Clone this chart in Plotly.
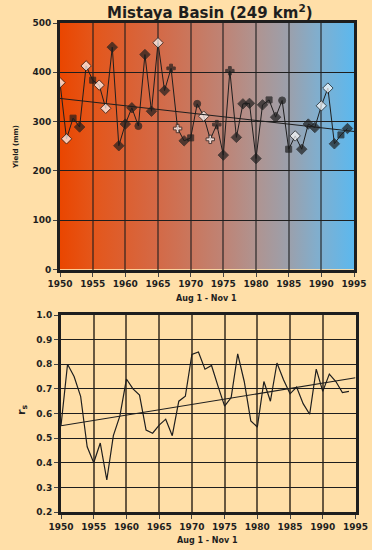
import base64
import plotly.graph_objects as go

# ---------------- data ----------------
years = list(range(1950, 1995))
yield_mm = [379, 265, 307, 289, 413, 384, 374, 327, 451, 251,
            295, 328, 291, 436, 321, 460, 363, 408, 286, 261,
            267, 336, 311, 264, 294, 232, 403, 268, 336, 337,
            225, 334, 344, 309, 343, 244, 271, 244, 295, 288,
            332, 368, 255, 273, 286]
rs = [0.55, 0.80, 0.75, 0.67, 0.465, 0.40, 0.48, 0.33, 0.51, 0.59,
      0.74, 0.70, 0.675, 0.533, 0.52, 0.553, 0.577, 0.51, 0.65, 0.67,
      0.84, 0.85, 0.78, 0.795, 0.71, 0.63, 0.665, 0.842, 0.73, 0.57,
      0.545, 0.73, 0.65, 0.805, 0.737, 0.68, 0.707, 0.64, 0.597, 0.78,
      0.69, 0.76, 0.73, 0.685, 0.69]
trend_years = [1950, 1995]
yield_trend = [347, 280]
rs_trend = [0.55, 0.745]
x_ticks = [1950, 1955, 1960, 1965, 1970, 1975, 1980, 1985, 1990, 1995]
yield_ticks = [0, 100, 200, 300, 400, 500]
rs_ticks = [0.2, 0.3, 0.4, 0.5, 0.6, 0.7, 0.8, 0.9, 1.0]

# ---------------- styles ----------------
BG = "#FFDFA8"
INK = "#1E1E1E"
white_years = {1950, 1951, 1954, 1956, 1957, 1965, 1968, 1972, 1973, 1986, 1990, 1991}
square_years = {1952, 1955, 1970, 1982, 1985, 1993}
cross_years = {1968, 1973, 1974, 1976, 1967}
circle_years = {1971, 1984, 1962}
symbols, fills, sizes = [], [], []
for yr in years:
    if yr in square_years:
        s, z = "square", 6
    elif yr in cross_years:
        s, z = "cross", 7
    elif yr in circle_years:
        s, z = "circle", 7
    else:
        s, z = "diamond", 8
    symbols.append(s)
    sizes.append(z)
    fills.append("white" if yr in white_years else INK)

stops = [(0.0, "rgb(234,70,0)"), (0.11, "rgb(228,86,26)"), (0.33, "rgb(212,105,70)"),
         (0.44, "rgb(202,118,92)"), (0.56, "rgb(190,132,118)"), (0.67, "rgb(175,148,145)"),
         (0.78, "rgb(155,160,172)"), (0.89, "rgb(125,176,210)"), (1.0, "rgb(92,184,238)")]
stop_xml = "".join(f'<stop offset="{o}" stop-color="{c}"/>' for o, c in stops)
svg = ('<svg xmlns="http://www.w3.org/2000/svg" width="400" height="100" viewBox="0 0 400 100" '
       'preserveAspectRatio="none"><defs><linearGradient id="g" x1="0" y1="0" x2="1" y2="0">'
       + stop_xml + '</linearGradient></defs><rect x="0" y="0" width="400" height="100" fill="url(#g)"/></svg>')
svg_uri = "data:image/svg+xml;base64," + base64.b64encode(svg.encode()).decode()

fig = go.Figure()

# top chart
fig.add_trace(go.Scatter(x=years, y=yield_mm, mode="lines+markers",
                         line=dict(color=INK, width=1),
                         marker=dict(symbol=symbols, size=sizes, color=fills,
                                     line=dict(color=INK, width=1)),
                         xaxis="x", yaxis="y", showlegend=False, hoverinfo="skip"))
fig.add_trace(go.Scatter(x=trend_years, y=yield_trend, mode="lines",
                         line=dict(color=INK, width=1), xaxis="x", yaxis="y",
                         showlegend=False, hoverinfo="skip"))
# bottom chart
fig.add_trace(go.Scatter(x=years, y=rs, mode="lines",
                         line=dict(color=INK, width=1.2),
                         xaxis="x2", yaxis="y2", showlegend=False, hoverinfo="skip"))
fig.add_trace(go.Scatter(x=trend_years, y=rs_trend, mode="lines",
                         line=dict(color=INK, width=1.1), xaxis="x2", yaxis="y2",
                         showlegend=False, hoverinfo="skip"))

tickfont = dict(family="DejaVu Sans", size=9, color=INK, weight="bold")
axis_common = dict(showline=True, mirror=True, linecolor=INK, linewidth=3,
                   ticks="outside", ticklen=4, tickcolor="#444", tickwidth=1,
                   tickfont=tickfont, zeroline=False, showgrid=True, automargin=False)

W, H = 372, 550
fig.update_layout(
    width=W, height=H,
    margin=dict(l=0, r=0, t=0, b=0, pad=0, autoexpand=False),
    paper_bgcolor=BG, plot_bgcolor="rgba(0,0,0,0)",
    xaxis=dict(domain=[60 / W, 354 / W], range=[1950, 1995], tickvals=x_ticks,
               anchor="y", gridcolor="rgba(30,30,30,0.55)", gridwidth=1.5, **axis_common),
    yaxis=dict(domain=[1 - 269.5 / H, 1 - 23 / H], range=[0, 500], tickvals=yield_ticks,
               anchor="x", gridcolor=INK, gridwidth=1.2, **axis_common),
    xaxis2=dict(domain=[61 / W, 355.5 / W], range=[1950, 1995], tickvals=x_ticks,
                anchor="y2", gridcolor="rgba(40,30,20,0.7)", gridwidth=1.5, **axis_common),
    yaxis2=dict(domain=[1 - 512 / H, 1 - 315 / H], range=[0.2, 1.0], tickvals=rs_ticks,
                tickformat=".1f", anchor="x2", gridcolor=INK, gridwidth=1.2, **axis_common),
    images=[dict(source=svg_uri, xref="x", yref="y", x=1950, y=500, sizex=45, sizey=500,
                 sizing="stretch", xanchor="left", yanchor="top", layer="below")],
    annotations=[
        dict(text="Mistaya Basin (249 km<sup>2</sup>)", xref="paper", yref="paper",
             x=210 / W, y=1 - 12 / H, showarrow=False, xanchor="center", yanchor="middle",
             font=dict(family="DejaVu Sans", size=15, color=INK, weight="bold")),
        dict(text="Yield (mm)", xref="paper", yref="paper", x=16 / W, y=1 - 147 / H,
             textangle=-90, showarrow=False, xanchor="center", yanchor="middle",
             font=dict(family="DejaVu Sans", size=7, color=INK, weight="bold")),
        dict(text="Aug 1 - Nov 1", xref="paper", yref="paper", x=207 / W, y=1 - 299 / H,
             showarrow=False, xanchor="center", yanchor="middle",
             font=dict(family="DejaVu Sans", size=8, color=INK, weight="bold")),
        dict(text="r<sub>s</sub>", xref="paper", yref="paper", x=22 / W, y=1 - 410 / H,
             textangle=-90, showarrow=False, xanchor="center", yanchor="middle",
             font=dict(family="DejaVu Sans", size=11, color=INK, weight="bold")),
        dict(text="Aug 1 - Nov 1", xref="paper", yref="paper", x=208 / W, y=1 - 540 / H,
             showarrow=False, xanchor="center", yanchor="middle",
             font=dict(family="DejaVu Sans", size=8, color=INK, weight="bold")),
    ],
)

fig.write_html("out.html",
               config={"displayModeBar": False},
               post_script="document.body.style.margin='0px';"
                           "document.body.style.background='" + BG + "';")
